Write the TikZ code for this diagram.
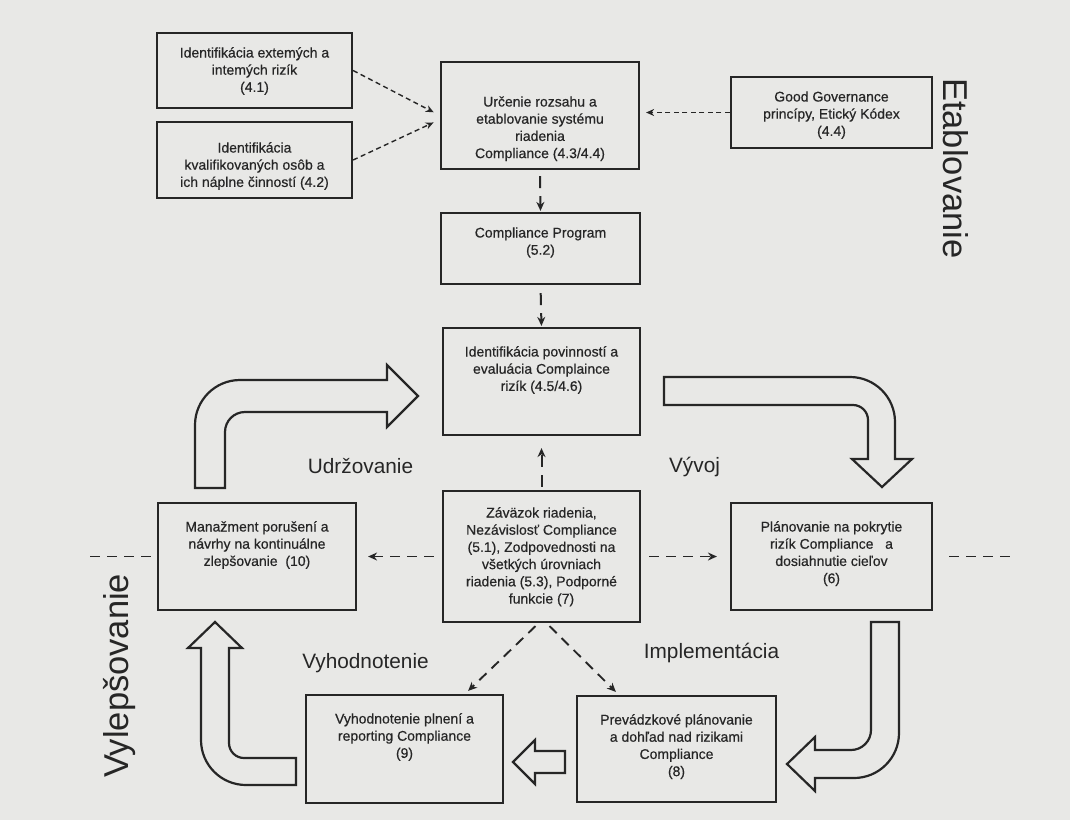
\documentclass[tikz,border=0pt]{standalone}
\usepackage{fontspec}
\setmainfont{Liberation Sans}
\newfontfamily\boxfont{Liberation Sans}[FakeBold=0.5]
\usetikzlibrary{arrows.meta,calc}
\definecolor{bg}{HTML}{E8E8E6}
\definecolor{ink}{HTML}{262626}
\newcommand{\bxt}[4]{\parbox[c][#2pt][t]{#1pt}{\boxfont\fontsize{14}{17.2}\selectfont\centering\rule{0pt}{#3pt}#4}}
\begin{document}
\begin{tikzpicture}[x=1pt,y=-1pt,
  box/.style={draw=ink,line width=2.2pt,inner sep=0pt,text=ink},
  thindash/.style={draw=ink,line width=1.4pt,dash pattern=on 5pt off 3.5pt,-{Stealth[length=8pt,width=7pt]}},
  vdash/.style={draw=ink,line width=2pt,dash pattern=on 12pt off 8pt,-{Stealth[length=9pt,width=8pt]}},
  hdash/.style={draw=ink,line width=1.9pt,dash pattern=on 10pt off 7pt,-{Stealth[length=9pt,width=8pt]}},
  plaindash/.style={draw=ink,line width=1.9pt,dash pattern=on 10pt off 7pt},
  blockarrow/.style={draw=ink,line width=2.2pt,fill=bg,line join=miter},
  biglabel/.style={font=\fontsize{20.8}{24}\selectfont,text=ink,inner sep=0pt},
  sidelabel/.style={font=\fontsize{34.5}{40}\selectfont,text=ink,inner sep=0pt}]
\fill[bg] (0,0) rectangle (1070,820);
\useasboundingbox (0,0) rectangle (1070,820);

% boxes
\node[box] (a)  at (254.5,70.5)  {\bxt{195}{75}{24.5}{Identifikácia extemých a\\intemých rizík\\(4.1)}};
\node[box] (b)  at (254.5,160)   {\bxt{195}{76}{30.5}{Identifikácia\\kvalifikovaných osôb a\\ich náplne činností (4.2)}};
\node[box] (c)  at (540,115.5)   {\bxt{198}{107}{44.5}{Určenie rozsahu a\\etablovanie systému\\riadenia\\Compliance (4.3/4.4)}};
\node[box] (gg) at (831.5,112.5) {\bxt{201}{71}{24.5}{Good Governance\\princípy, Etický Kódex\\(4.4)}};
\node[box] (cp) at (540.5,248.5) {\bxt{199}{71}{24.5}{Compliance Program\\(5.2)}};
\node[box] (d)  at (541.5,381.5) {\bxt{197}{107}{28.5}{Identifikácia povinností a\\evaluácia Complaince\\rizík (4.5/4.6)}};
\node[box] (e)  at (541.5,556.5) {\bxt{197}{131}{26.5}{Záväzok riadenia,\\Nezávislosť Compliance\\(5.1), Zodpovednosti na\\všetkých úrovniach\\riadenia (5.3), Podporné\\funkcie (7)}};
\node[box] (f)  at (257,556.5)   {\bxt{198}{107}{28.5}{Manažment porušení a\\návrhy na kontinuálne\\zlepšovanie\ \ (10)}};
\node[box] (g)  at (831.5,556.5) {\bxt{201}{107}{28.5}{Plánovanie na pokrytie\\rizík Compliance\ \ \ a\\dosiahnutie cieľov\\(6)}};
\node[box] (h)  at (404.5,749)   {\bxt{197}{108}{28.5}{Vyhodnotenie plnení a\\reporting Compliance\\(9)}};
\node[box] (i)  at (676.5,749)   {\bxt{199}{106}{28.5}{Prevádzkové plánovanie\\a dohľad nad rizikami\\Compliance\\(8)}};

% dashed connectors
\draw[thindash,shorten >=7pt] (a.east) -- (c.west);
\draw[thindash,shorten >=7pt] (b.east) -- ([yshift=-4pt]c.west);
\draw[thindash,shorten >=6pt] (gg.west) -- (gg.west -| c.east);
\draw[vdash,shorten <=6pt,shorten >=1pt] (c.south) -- (cp.north);
\draw[vdash,shorten <=8pt,shorten >=1pt] (cp.south) -- (d.north);
\draw[vdash,shorten <=3pt,shorten >=12pt] (e.north) -- (d.south);
\draw[hdash,shorten <=8pt,shorten >=11pt] (e.west) -- (f.east);
\draw[hdash,shorten <=8pt,shorten >=13pt] (e.east) -- (g.west);
\coordinate (lend) at (87,556.5);
\coordinate (rend) at (1013,556.5);
\draw[plaindash,shorten <=6pt] (f.west) -- (lend);
\draw[plaindash,shorten <=16pt] (g.east) -- (rend);
\draw[hdash] ($(e.south)+(-6,3)$) -- ($(h.north east)+(-36,-3)$);
\draw[hdash] ($(e.south)+(8,3)$) -- ($(i.north west)+(40,-3)$);

% block arrows
\draw[blockarrow] (195,488) -- (195,425) .. controls (195,400.15) and (215.15,380) .. (240,380)
  -- (387,380) -- (387,365) -- (418,396) -- (387,427) -- (387,412) -- (245,412)
  .. controls (233.95,412) and (225,420.95) .. (225,432) -- (225,488) -- cycle;
\draw[blockarrow] (664,377) -- (850,377) .. controls (874.85,377) and (895,397.15) .. (895,422)
  -- (895,459) -- (912,459) -- (882,487) -- (852,459) -- (868,459) -- (868,420)
  .. controls (868,411.72) and (861.28,405) .. (853,405) -- (664,405) -- cycle;
\draw[blockarrow] (871,622) -- (899,622) -- (899,733) .. controls (899,757.85) and (878.85,778) .. (854,778)
  -- (815,778) -- (815,791) -- (787,764) -- (815,737) -- (815,750) -- (851,750)
  .. controls (862.05,750) and (871,741.05) .. (871,730) -- cycle;
\draw[blockarrow] (296,758) -- (244,758) .. controls (235.72,758) and (229,751.28) .. (229,743)
  -- (229,648) -- (242,648) -- (215,622) -- (188,648) -- (201,648) -- (201,740)
  .. controls (201,764.85) and (221.15,785) .. (246,785) -- (296,785) -- cycle;
\draw[blockarrow] (565,751) -- (535,751) -- (535,740) -- (513,762) -- (535,784) -- (535,773) -- (565,773) -- cycle;

% labels
\node[biglabel,anchor=base] (ludr) at (360.5,473) {Udržovanie};
\node[biglabel,anchor=base] (lvyv) at (694.5,472) {Vývoj};
\node[biglabel,anchor=base] (limp) at (711.5,658) {Implementácia};
\node[biglabel,anchor=base] (lvyh) at (365.5,668) {Vyhodnotenie};
\node[sidelabel,rotate=-90,anchor=base west] (leta) at (943,78) {Etablovanie};
\node[sidelabel,rotate=90,anchor=base west] (lvyl) at (128,778) {Vylepšovanie};
\end{tikzpicture}
\end{document}
